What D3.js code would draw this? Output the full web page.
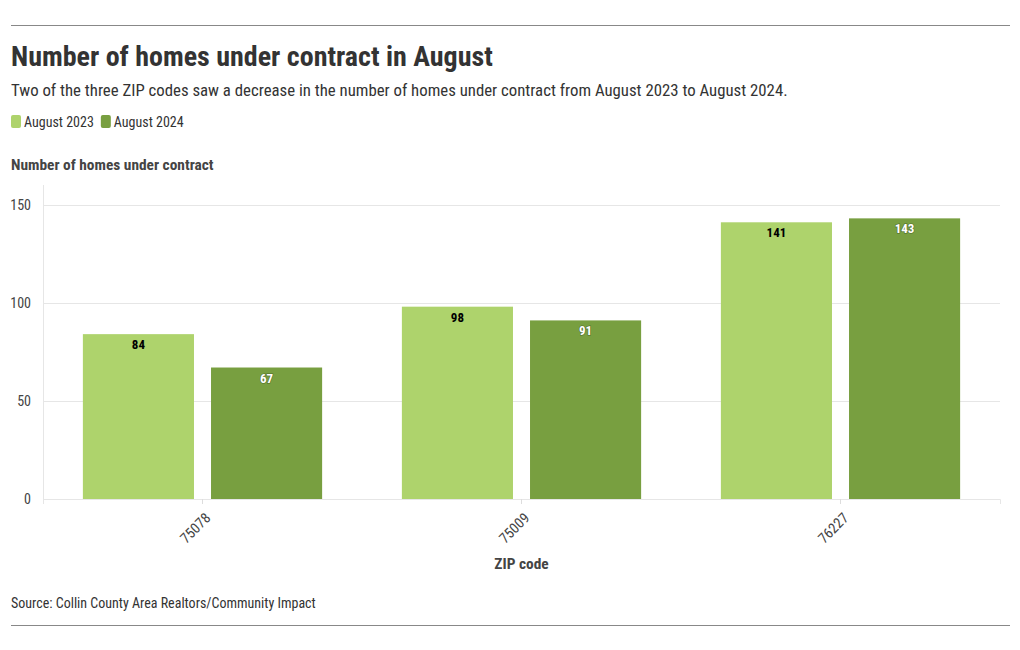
<!DOCTYPE html>
<html><head><meta charset="utf-8">
<script src="https://cdn.jsdelivr.net/npm/d3@7"></script>
<style>
body{margin:0;background:#fff;}
text{font-family:"Roboto Condensed","Liberation Sans Narrow","Roboto",sans-serif;}
</style></head>
<body><svg id="c" width="1020" height="650"></svg>
<script>
const zips = ["75078","75009","76227"];
const seriesNames = ["August 2023","August 2024"];
const aug2023 = [84,98,141];
const aug2024 = [67,91,143];
const yTicks = [0,50,100,150];
const colors = ["#aed36c","#789f40"];
const labelColors = ["#000","#fff"];
const FF = '"Roboto Condensed","Liberation Sans Narrow","Roboto",sans-serif';

const svg = d3.select("#c");
const m = {l:43, r:1000, t:185, b:499};

svg.append("line").attr("x1",11).attr("x2",1010).attr("y1",25.5).attr("y2",25.5).attr("stroke","#888");
svg.append("line").attr("x1",11).attr("x2",1010).attr("y1",625.5).attr("y2",625.5).attr("stroke","#888");

svg.append("text").attr("x",11).attr("y",66).attr("font-size",28).attr("font-weight",700).attr("fill","#333")
  .text("Number of homes under contract in August");
svg.append("text").attr("x",11).attr("y",96).attr("font-size",16.8).attr("fill","#333")
  .text("Two of the three ZIP codes saw a decrease in the number of homes under contract from August 2023 to August 2024.");

// legend
const lg = svg.append("g");
let lx = 11;
seriesNames.forEach((n,i)=>{
  lg.append("rect").attr("x",lx).attr("y",115).attr("width",10).attr("height",13).attr("rx",2).attr("fill",colors[i]);
  const t = lg.append("text").attr("x",lx+13).attr("y",127).attr("font-size",14).attr("fill","#333").text(n);
  lx += 13 + t.node().getComputedTextLength() + 7;
});

svg.append("text").attr("x",11).attr("y",170).attr("font-size",15.4).attr("font-weight",700).attr("fill","#444")
  .text("Number of homes under contract");

const x0 = d3.scaleBand().domain(zips).range([m.l,m.r]).paddingInner(0.25).paddingOuter(0.125);
const x1 = d3.scaleBand().domain(seriesNames).range([0,x0.bandwidth()]).paddingInner(0.133);
const y = d3.scaleLinear().domain([0,160]).range([m.b,m.t]);

// gridlines
svg.append("g").selectAll("line").data(yTicks).join("line")
  .attr("x1",m.l).attr("x2",m.r).attr("y1",d=>Math.round(y(d))+0.5).attr("y2",d=>Math.round(y(d))+0.5)
  .attr("stroke","#e6e6e6");
svg.append("line").attr("x1",m.l+0.5).attr("x2",m.l+0.5).attr("y1",m.t).attr("y2",m.b).attr("stroke","#e6e6e6");

const yAxis = svg.append("g").attr("transform",`translate(${m.l},0)`)
  .call(d3.axisLeft(y).tickValues(yTicks).tickSize(0).tickPadding(12));
yAxis.select(".domain").remove();
yAxis.selectAll("text").attr("font-size",14).attr("fill","#444").style("font-family",FF);

const data = zips.map((z,i)=>({zip:z, vals:[aug2023[i],aug2024[i]]}));
const groups = svg.append("g").selectAll("g").data(data).join("g")
  .attr("transform",d=>`translate(${x0(d.zip)},0)`);
groups.selectAll("rect").data(d=>d.vals.map((v,i)=>({v,i}))).join("rect")
  .attr("x",d=>x1(seriesNames[d.i])).attr("width",x1.bandwidth())
  .attr("y",d=>y(d.v)).attr("height",d=>y(0)-y(d.v)).attr("fill",d=>colors[d.i]);
groups.selectAll("text").data(d=>d.vals.map((v,i)=>({v,i}))).join("text")
  .attr("x",d=>x1(seriesNames[d.i])+x1.bandwidth()/2).attr("y",d=>y(d.v)+15)
  .attr("text-anchor","middle").attr("font-size",13).attr("font-weight",700)
  .attr("fill",d=>labelColors[d.i])
  .style("paint-order","stroke")
  .attr("stroke",d=>d.i===1?"rgba(0,0,0,0.25)":"none").attr("stroke-width",1.5)
  .text(d=>d.v);

const xAxis = svg.append("g").attr("transform",`translate(0,${m.b})`)
  .call(d3.axisBottom(x0).tickSize(5).tickPadding(4));
xAxis.select(".domain").attr("stroke","#e6e6e6");
xAxis.selectAll("line").attr("stroke","#ddd");
xAxis.selectAll("text").attr("font-size",14.5).attr("fill","#444")
  .style("font-family",FF)
  .attr("text-anchor","end").attr("dy","0.35em")
  .attr("transform","translate(-1,10) rotate(-45)");

svg.append("text").attr("x",(m.l+m.r)/2).attr("y",569).attr("text-anchor","middle")
  .attr("font-size",15.4).attr("font-weight",700).attr("fill","#444").text("ZIP code");

svg.append("text").attr("x",11).attr("y",608).attr("font-size",14).attr("fill","#333")
  .text("Source: Collin County Area Realtors/Community Impact");
</script></body></html>
